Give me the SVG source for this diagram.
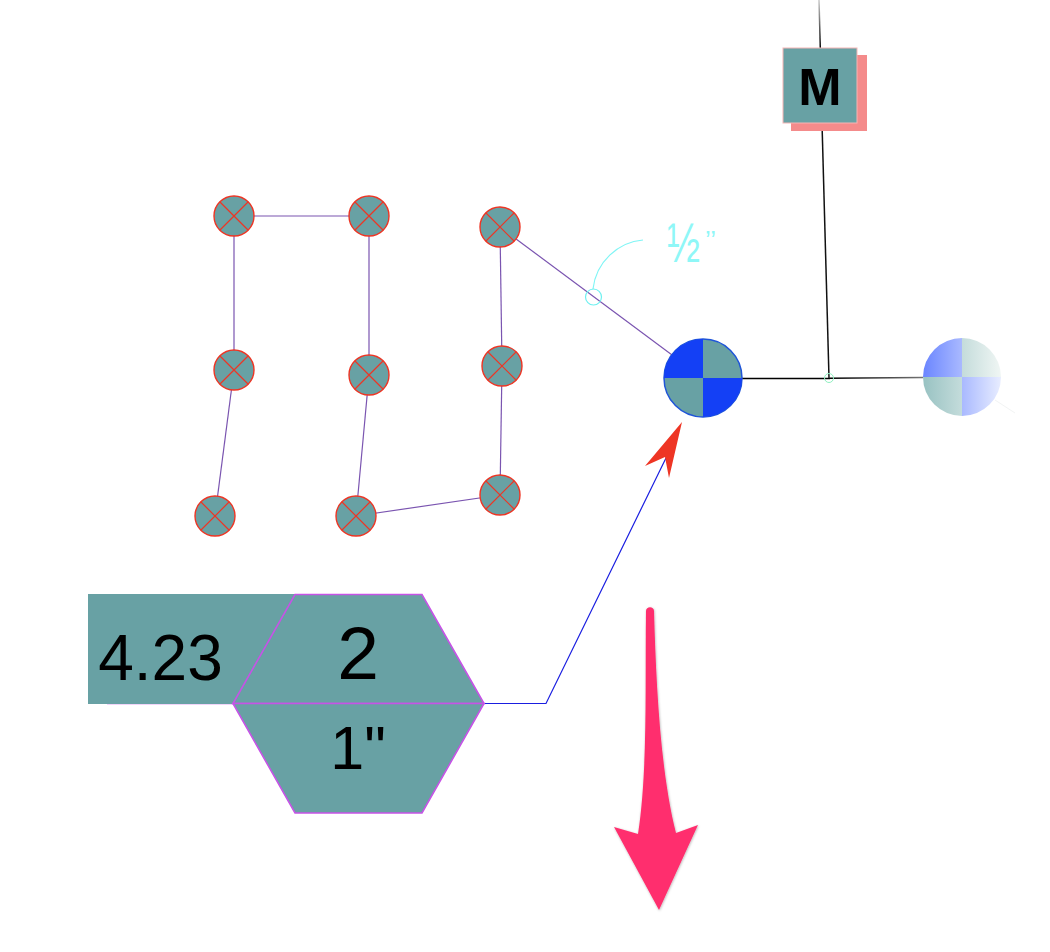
<svg xmlns="http://www.w3.org/2000/svg" width="1050" height="952" viewBox="0 0 1050 952">
<style>
.t{font-family:"Liberation Sans",Arial,sans-serif;fill:#000;text-anchor:middle}
.v{fill:none;stroke:#7a54b0;stroke-width:1.2}
.teal{fill:#68a1a4}
.hex{fill:#68a1a4;stroke:#c653e6;stroke-width:1.6}
.xc{fill:#68a1a4;stroke:#ee3524;stroke-width:1.4}
.xl{fill:none;stroke:#ee3524;stroke-width:1.2}
.fr{font-family:"Liberation Sans",Arial,sans-serif;fill:#8ff7f7}
</style>
<defs>
<linearGradient id="gb" gradientUnits="userSpaceOnUse" x1="923" y1="0" x2="1001" y2="0"><stop offset="0" stop-color="#6a85ff"/><stop offset="1" stop-color="#e8edff"/></linearGradient>
<linearGradient id="gt" gradientUnits="userSpaceOnUse" x1="923" y1="0" x2="1001" y2="0"><stop offset="0" stop-color="#98c2c2"/><stop offset="1" stop-color="#f0f6f4"/></linearGradient>
<linearGradient id="fh" gradientUnits="userSpaceOnUse" x1="830" y1="0" x2="925" y2="0"><stop offset="0" stop-color="#000"/><stop offset="1" stop-color="#777"/></linearGradient>
<linearGradient id="fv" gradientUnits="userSpaceOnUse" x1="0" y1="0" x2="0" y2="50"><stop offset="0" stop-color="#ccc"/><stop offset="1" stop-color="#000"/></linearGradient>
<filter id="sh" x="-20%" y="-5%" width="140%" height="110%"><feDropShadow dx="0.5" dy="0.8" stdDeviation="0.8" flood-color="#000" flood-opacity="0.3"/></filter>
<g id="xm"><circle class="xc" r="20"/><path class="xl" d="M-14-14L14 14M14-14L-14 14"/></g>
</defs>
<g id="connectors">
<path class="v" d="M234 216H369"/>
<path class="v" d="M234 216V370"/>
<path class="v" d="M369 216V375"/>
<path class="v" d="M234 370L215 516"/>
<path class="v" d="M369 375L356 516"/>
<path class="v" d="M356 516L500 495"/>
<path class="v" d="M500 495L502 366"/>
<path class="v" d="M502 366L500 227"/>
<path class="v" d="M500 227L703 378"/>
<path d="M819 0L820.300 48" fill="none" stroke="url(#fv)" stroke-width="1.500"/>
<path d="M822 123L829 378" fill="none" stroke="#111" stroke-width="1.500"/>
<path d="M742 378.500H830" fill="none" stroke="#000" stroke-width="1.500"/>
<path d="M830 378.300L923 377.500" fill="none" stroke="url(#fh)" stroke-width="1.500"/>
<path d="M484 703.500H546L666 458" fill="none" stroke="#1a1ee0" stroke-width="1.200"/>
<path d="M643 240C618 242 596 262 593 289" fill="none" stroke="#7ff5f5" stroke-width="1.200"/>
<path d="M995 400L1015 413" fill="none" stroke="#f2f4f4" stroke-width="1"/>
<path d="M107 703.500H233" fill="none" stroke="#c653e6" stroke-width="1.600"/>
</g>
<g id="n1"><use href="#xm" x="234" y="216"/></g>
<g id="n2"><use href="#xm" x="369" y="216"/></g>
<g id="n3"><use href="#xm" x="234" y="370"/></g>
<g id="n4"><use href="#xm" x="369" y="375"/></g>
<g id="n5"><use href="#xm" x="215" y="516"/></g>
<g id="n6"><use href="#xm" x="356" y="516"/></g>
<g id="n7"><use href="#xm" x="500" y="227"/></g>
<g id="n8"><use href="#xm" x="502" y="366"/></g>
<g id="n9"><use href="#xm" x="500" y="495"/></g>
<g id="note">
<circle cx="593.500" cy="297" r="8" fill="none" stroke="#6ff0f0" stroke-width="1.200"/>
<text class="fr" transform="translate(667 262) scale(0.9 1.25)" style="font-size:44px">½</text>
<text class="fr" x="705" y="249" style="font-size:26px">’’</text>
</g>
<g id="valve">
<circle cx="703" cy="378" r="39" fill="#68a1a4" stroke="#1f55d8" stroke-width="1.500"/>
<path d="M703 378V339A39 39 0 0 0 664 378Z M703 378V417A39 39 0 0 0 742 378Z" fill="#1440f5"/>
</g>
<g id="valve2">
<path d="M962 377V338A39 39 0 0 1 1001 377Z" fill="url(#gt)"/>
<path d="M962 377V416A39 39 0 0 1 923 377Z" fill="url(#gt)"/>
<path d="M962 377V338A39 39 0 0 0 923 377Z M962 377V416A39 39 0 0 0 1001 377Z" fill="url(#gb)"/>
</g>
<g id="sensor"><circle cx="829" cy="378" r="4.500" fill="none" stroke="#8ff0c0" stroke-width="1"/></g>
<g id="motor">
<rect x="791" y="55" width="76" height="76" fill="#f48b8b"/>
<rect x="783" y="48" width="74" height="75" fill="#68a1a4" stroke="#f5b5b5" stroke-width="1"/>
<text class="t" x="820" y="105" style="font-size:52px;font-weight:700">M</text>
</g>
<g id="tag">
<rect x="88" y="594" width="207" height="110" class="teal"/>
<text class="t" x="160.500" y="680" style="font-size:64px">4.23</text>
<path class="hex" d="M295 594.500H422L484 703.500H233Z"/>
<path class="hex" d="M233 703.500H484L422 813H295Z"/>
<text class="t" x="358" y="679" style="font-size:75px">2</text>
<text class="t" x="358" y="769" style="font-size:61px">1"</text>
</g>
<g id="head"><path d="M682 422L645 466L665 457L669 478Z" fill="#ee3524"/></g>
<g id="arrow"><path d="M646 611C646 606 654 606 654 611C656 680 660 770 676 833L698 825L659 910L614 827L638 834C648 770 645 680 646 611Z" fill="#ff2f6e" filter="url(#sh)"/></g>
</svg>
